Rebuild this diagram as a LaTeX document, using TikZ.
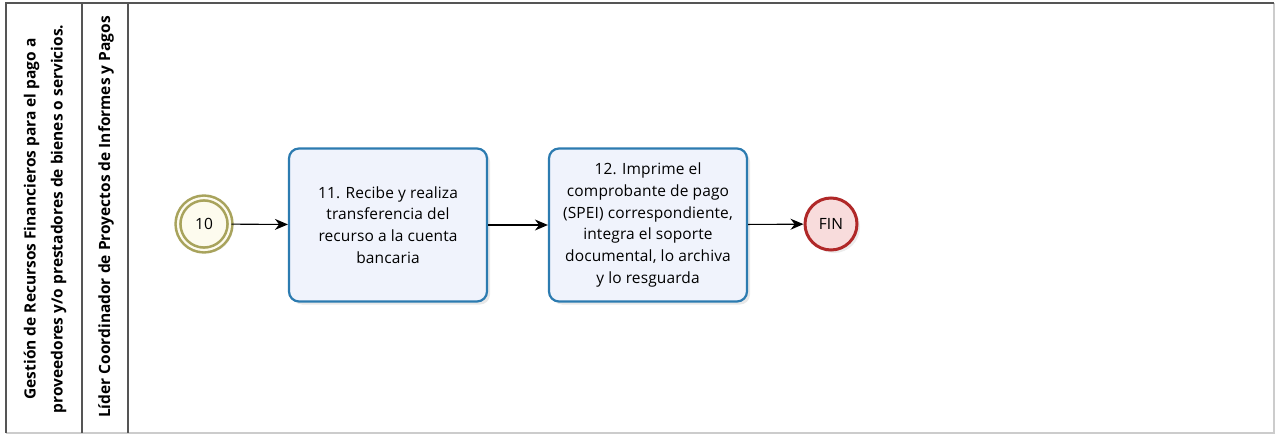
\documentclass[tikz,border=0pt]{standalone}
\usepackage{fontspec}
\setmainfont{Open Sans}
\newfontfamily\taskfont[LetterSpace=0.8]{Open Sans}
\usetikzlibrary{arrows.meta,shadows}

\definecolor{lanegray}{HTML}{555555}
\definecolor{startring}{HTML}{A8A35C}
\definecolor{startfill}{HTML}{FDFBEE}
\definecolor{taskblue}{HTML}{2C7BB0}
\definecolor{taskfill}{HTML}{F0F3FC}
\definecolor{endred}{HTML}{B02828}
\definecolor{endfill}{HTML}{F8DCDC}

\tikzset{
  lanetext/.style={rotate=90, font=\bfseries\fontsize{15.5}{27}\selectfont, align=center},
  taskbox/.style={draw=taskblue, line width=2.2pt, fill=taskfill, rounded corners=10pt,
    minimum width=198pt, minimum height=153pt, align=center,
    font=\taskfont\fontsize{15.5}{21.8}\selectfont,
    drop shadow={shadow xshift=3pt, shadow yshift=-3pt, opacity=0.18}},
  flow/.style={-{Stealth[length=13pt, width=11pt]}, line width=1.1pt}
}

\begin{document}
\begin{tikzpicture}[x=1pt, y=-1pt]
  \useasboundingbox (0, 0) rectangle (1275, 434);

  % pool and lanes
  \draw [gray!40, line width=1.2pt] (1274, 3) -- (1274, 433) -- (6, 433);
  \draw [lanegray, line width=1.3pt] (6, 433) -- (6, 3) -- (1274, 3);
  \draw [lanegray, line width=1.3pt] (82, 3) -- (82, 433);
  \draw [lanegray, line width=1.3pt] (128, 3) -- (128, 433);

  \node [lanetext] (pool) at (45, 219) {Gestión de Recursos Financieros para el pago a\\proveedores y/o prestadores de bienes o servicios.};
  \node [lanetext] (lane) at (106, 217) {Líder Coordinador de Proyectos de Informes y Pagos};

  % events and tasks
  \node [circle, draw=startring, line width=2.6pt, fill=startfill, minimum size=52pt,
    double=startfill, double distance=2.2pt,
    drop shadow={shadow xshift=3pt, shadow yshift=-3pt, opacity=0.15},
    font=\taskfont\fontsize{15.5}{18}\selectfont] (ev10) at (204, 224) {10};
  \node [taskbox] (t11) at (388, 225) {11. Recibe y realiza\\transferencia del\\recurso a la cuenta\\bancaria};
  \node [taskbox] (t12) at (648, 225) {12. Imprime el\\comprobante de pago\\(SPEI) correspondiente,\\integra el soporte\\documental, lo archiva\\y lo resguarda};
  \node [circle, draw=endred, line width=3pt, fill=endfill, minimum size=52pt,
    drop shadow={shadow xshift=3pt, shadow yshift=-3pt, opacity=0.15},
    font=\taskfont\fontsize{15.5}{18}\selectfont] (fin) at (831, 224) {FIN};

  \draw [flow] (ev10) -- (t11);
  \draw [flow] (t11) -- (t12);
  \draw [flow] (t12) -- (fin);
\end{tikzpicture}
\end{document}
